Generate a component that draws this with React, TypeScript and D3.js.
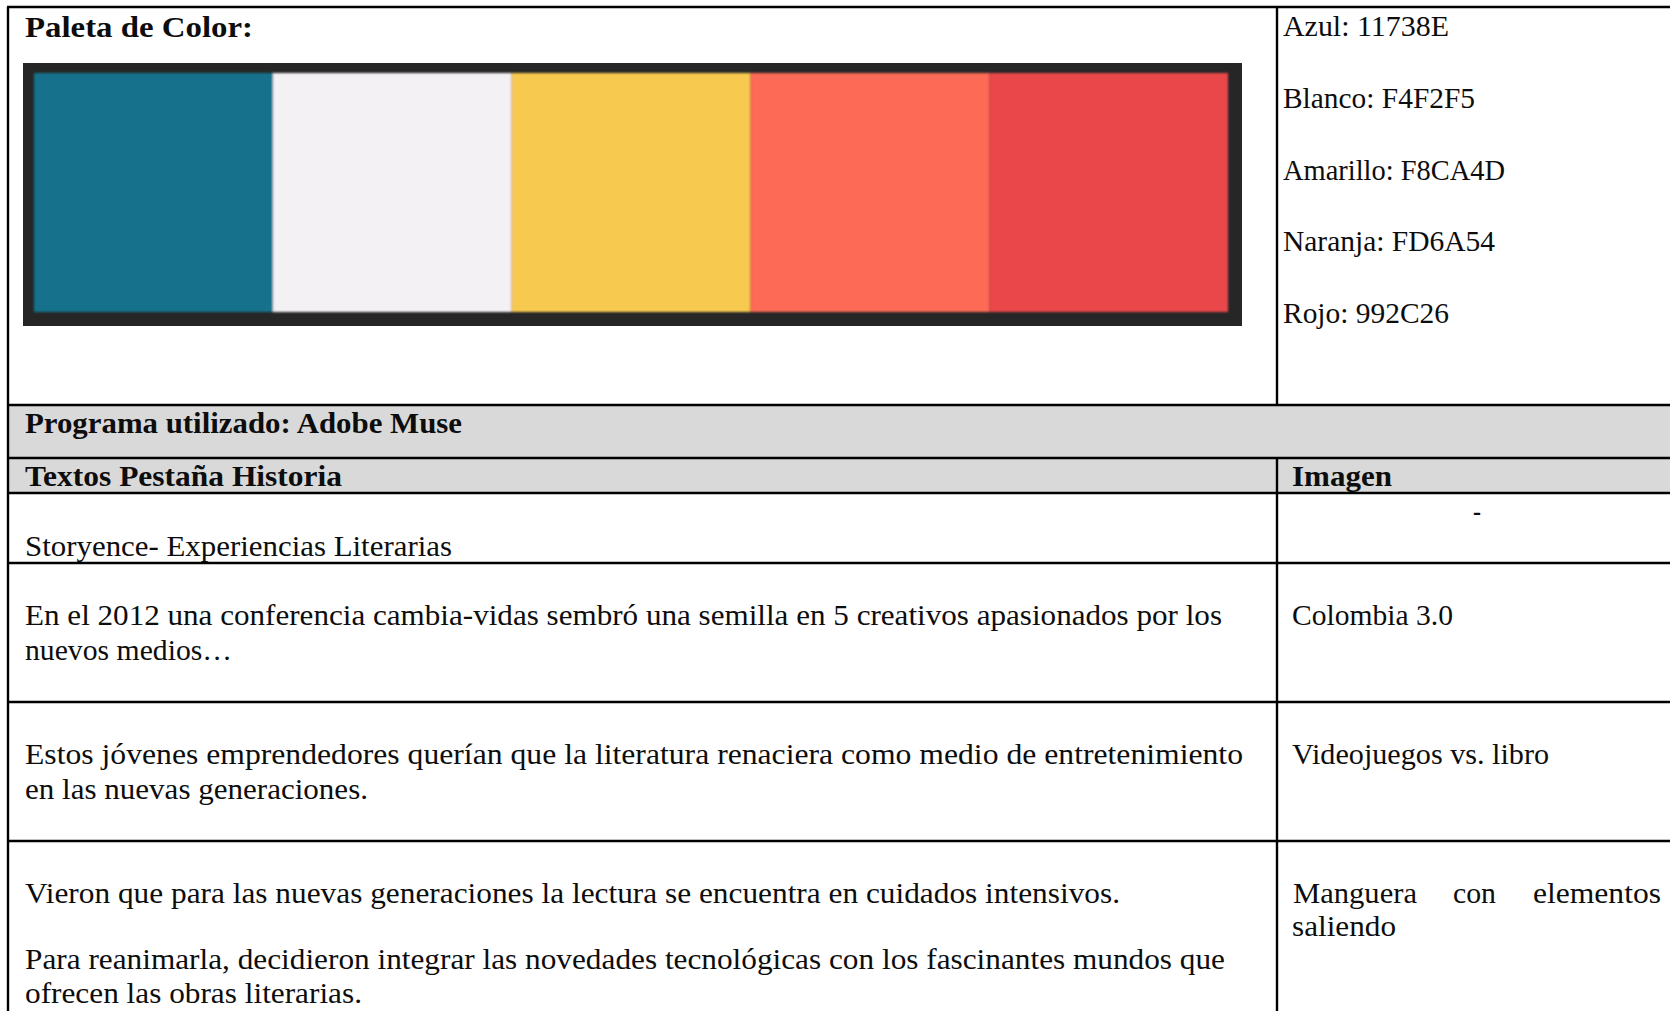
import React from "react";
import * as d3 from "d3";

// ---- data ----
const paletteNames = ["Azul", "Blanco", "Amarillo", "Naranja", "Rojo"];
const paletteCodes = ["11738E", "F4F2F5", "F8CA4D", "FD6A54", "992C26"];
const swatchFill = ["#12728c", "#f3f1f4", "#f7ca4f", "#fd6a54", "#e94748"];

const titleText = "Paleta de Color:";
const programText = "Programa utilizado: Adobe Muse";
const headerLeft = "Textos Pestaña Historia";
const headerRight = "Imagen";

const rowTexts: string[][] = [
  ["", "Storyence- Experiencias Literarias"],
  [
    "",
    "En el 2012 una conferencia cambia-vidas sembró una semilla en 5 creativos apasionados por los",
    "nuevos medios…",
  ],
  [
    "",
    "Estos jóvenes emprendedores querían que la literatura renaciera como medio de entretenimiento",
    "en las nuevas generaciones.",
  ],
  [
    "",
    "Vieron que para las nuevas generaciones la lectura se encuentra en cuidados intensivos.",
    "",
    "Para reanimarla, decidieron integrar las novedades tecnológicas con los fascinantes mundos que",
    "ofrecen las obras literarias.",
  ],
];
const rowImages: string[][] = [
  ["-"],
  ["", "Colombia 3.0"],
  ["", "Videojuegos vs. libro"],
  ["", "Manguera con elementos", "saliendo"],
];

// ---- layout ----
const W = 1670;
const H = 1011;
const FS = 29;
const leftX = 8;
const divX = 1277;
const tableTop = 7;
const yTopRowEnd = 405;
const yProgEnd = 458;
const yHeadEnd = 493;
const rowBottoms = [563, 702, 841];

// baselines of every line slot in each row
const rowLineY: number[][] = [
  [521, 556],
  [590, 625, 660],
  [729, 764, 799],
  [868, 903, 936, 969, 1003],
];

const leftTextWidths: number[][] = [
  [0, 427],
  [0, 1197, 207],
  [0, 1218, 343],
  [0, 1095, 0, 1200, 337],
];
const rightTextWidths: number[][] = [
  [8],
  [0, 161],
  [0, 257],
  [0, 0, 104],
];
const codeWidths = [166, 192, 222, 212, 166];

const FONT = "'Liberation Serif', 'Times New Roman', serif";

function Txt(props: {
  x: number;
  y: number;
  w?: number;
  bold?: boolean;
  children: string;
}) {
  const { x, y, w, bold, children } = props;
  return (
    <text
      x={x}
      y={y}
      fontFamily={FONT}
      fontSize={FS}
      fontWeight={bold ? 700 : 400}
      fill="#0d0d0d"
      textLength={w && w > 0 ? w : undefined}
      lengthAdjust={w && w > 0 ? "spacingAndGlyphs" : undefined}
    >
      {children}
    </text>
  );
}

export default function App() {
  const swatchX = d3
    .scaleBand<string>()
    .domain(paletteNames)
    .range([34, 1228])
    .paddingInner(0)
    .paddingOuter(0);
  const codeY = d3
    .scaleLinear()
    .domain([0, paletteNames.length - 1])
    .range([36, 323]);

  const justWords = rowImages[3][1].split(" ");
  const justStarts = [1293, 1453, 1533];
  const justWidths = [124, 43, 128];

  const lineStroke = "#000";
  const sw = 2.4;

  return (
    <div style={{ position: "fixed", left: 0, top: 0, width: W, height: H, background: "#fff" }}>
      <svg width={W} height={H} viewBox={`0 0 ${W} ${H}`} style={{ display: "block" }}>
        <defs>
          <filter id="soft" x="-5%" y="-5%" width="110%" height="110%">
            <feGaussianBlur stdDeviation="0.9" />
          </filter>
        </defs>
        <rect x={0} y={0} width={W} height={H} fill="#fff" />

        {/* gray rows */}
        <rect x={leftX} y={yTopRowEnd} width={W - leftX} height={yProgEnd - yTopRowEnd} fill="#d9d9d9" />
        <rect x={leftX} y={yProgEnd} width={W - leftX} height={yHeadEnd - yProgEnd} fill="#d9d9d9" />

        {/* palette swatch */}
        <rect x={23} y={63} width={1242 - 23} height={326 - 63} fill="#262626" />
        <g filter="url(#soft)">
          {paletteNames.map((n, i) => (
            <rect
              key={n}
              x={swatchX(n)!}
              y={73}
              width={swatchX.bandwidth()}
              height={312 - 73}
              fill={swatchFill[i]}
            />
          ))}
        </g>

        <Txt x={25} y={37} w={228} bold>
          {titleText}
        </Txt>

        {paletteNames.map((n, i) => (
          <Txt key={n} x={1283} y={codeY(i)} w={codeWidths[i]}>
            {`${n}: ${paletteCodes[i]}`}
          </Txt>
        ))}

        <Txt x={25} y={433} w={437} bold>
          {programText}
        </Txt>

        <Txt x={25} y={486} w={317} bold>
          {headerLeft}
        </Txt>
        <Txt x={1292} y={486} w={100} bold>
          {headerRight}
        </Txt>

        {rowTexts.map((lines, r) =>
          lines.map((t, li) =>
            t ? (
              <Txt key={`l${r}-${li}`} x={25} y={rowLineY[r][li]} w={leftTextWidths[r][li]}>
                {t}
              </Txt>
            ) : null
          )
        )}
        {rowImages.map((lines, r) =>
          lines.map((t, li) => {
            if (!t) return null;
            const y = rowLineY[r][li];
            if (r === 3 && li === 1) {
              return (
                <g key={`r${r}-${li}`}>
                  {justWords.map((wd, k) => (
                    <Txt key={wd} x={justStarts[k]} y={y} w={justWidths[k]}>
                      {wd}
                    </Txt>
                  ))}
                </g>
              );
            }
            return (
              <Txt key={`r${r}-${li}`} x={r === 0 ? 1473 : 1292} y={y} w={rightTextWidths[r][li]}>
                {t}
              </Txt>
            );
          })
        )}

        {/* grid lines */}
        <line x1={leftX - 1} x2={W} y1={tableTop} y2={tableTop} stroke={lineStroke} strokeWidth={sw} />
        <line x1={leftX} x2={leftX} y1={tableTop} y2={H} stroke={lineStroke} strokeWidth={sw} />
        {[yTopRowEnd, yProgEnd, yHeadEnd, ...rowBottoms].map((y) => (
          <line key={y} x1={leftX} x2={W} y1={y} y2={y} stroke={lineStroke} strokeWidth={sw} />
        ))}
        <line x1={divX} x2={divX} y1={tableTop} y2={yTopRowEnd} stroke={lineStroke} strokeWidth={sw} />
        <line x1={divX} x2={divX} y1={yProgEnd} y2={H} stroke={lineStroke} strokeWidth={sw} />
      </svg>
    </div>
  );
}
